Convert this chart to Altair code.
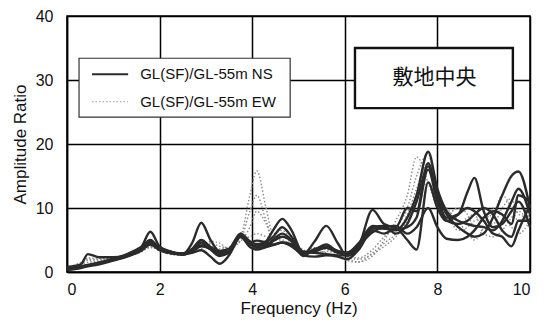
import altair as alt
import pandas as pd

freq = [0.0, 0.3, 0.45, 0.7, 1.0, 1.3, 1.6, 1.8, 2.0, 2.2, 2.5, 2.7, 2.9, 3.1, 3.3, 3.5,
        3.75, 3.95, 4.1, 4.3, 4.45, 4.65, 4.85, 5.1, 5.35, 5.6, 5.85, 6.05, 6.3, 6.6, 6.85,
        7.1, 7.35, 7.55, 7.8, 8.0, 8.2, 8.45, 8.65, 8.8, 9.0, 9.2, 9.4, 9.6, 9.75, 10.0]

ns1 = [0.5, 0.8, 1.0, 1.4, 2.0, 2.6, 3.6, 4.8, 3.8, 3.2, 2.9, 3.5, 4.2, 3.8, 3.3, 3.6,
       5.8, 4.4, 4.0, 4.6, 5.5, 7.0, 5.5, 3.0, 3.2, 3.8, 3.0, 2.8, 4.0, 6.8, 6.8,
       6.5, 8.5, 12.0, 18.8, 13.0, 9.5, 8.0, 7.5, 7.2, 7.0, 6.5, 8.0, 11.0, 13.0, 9.0]
ns2 = [0.4, 0.7, 1.0, 1.3, 1.9, 2.5, 3.8, 6.3, 4.0, 3.3, 2.8, 4.5, 7.7, 5.0, 3.2, 3.6,
       6.0, 4.8, 4.3, 4.8, 6.5, 8.3, 6.5, 3.0, 3.5, 4.3, 3.2, 3.0, 4.5, 7.2, 6.8,
       6.6, 7.0, 8.5, 16.0, 11.0, 8.5, 9.0, 12.5, 14.7, 9.5, 7.0, 7.5, 9.5, 11.0, 7.0]
ns3 = [0.5, 0.9, 1.1, 1.5, 2.1, 2.8, 3.9, 5.0, 3.6, 3.0, 2.8, 3.0, 3.4, 2.4, 1.3, 2.6,
       5.5, 3.9, 3.5, 3.9, 4.2, 4.6, 4.0, 2.8, 4.8, 7.2, 4.5, 2.5, 4.0, 9.7, 7.5,
       7.0, 10.0, 9.5, 17.0, 12.0, 9.0, 7.0, 6.0, 5.5, 6.0, 8.5, 12.0, 15.0, 15.7, 10.0]
ns4 = [0.8, 1.2, 2.8, 2.3, 2.3, 2.6, 3.3, 4.3, 3.4, 3.0, 2.9, 3.6, 5.0, 3.9, 3.0, 3.2,
       5.7, 4.6, 4.9, 4.6, 4.3, 4.6, 4.3, 2.6, 2.4, 2.6, 2.4, 2.0, 3.5, 6.5, 6.0,
       6.8, 5.0, 3.5, 14.0, 10.0, 8.0, 9.0, 10.0, 9.5, 8.0, 6.0, 5.5, 4.0, 6.5, 10.5]
ns5 = [0.3, 0.6, 0.9, 1.2, 1.8, 2.4, 3.4, 4.4, 3.7, 3.1, 2.7, 3.2, 4.0, 3.6, 2.8, 3.0,
       5.6, 4.2, 4.4, 4.2, 4.8, 5.5, 4.8, 2.5, 3.6, 3.9, 3.3, 3.0, 4.2, 6.2, 7.0,
       7.2, 6.0, 7.0, 10.0, 7.0, 5.2, 5.0, 5.5, 6.5, 8.5, 9.5, 9.0, 7.5, 12.0, 11.0]
ns6 = [0.6, 0.8, 1.0, 1.4, 2.0, 2.7, 3.7, 4.6, 3.5, 3.0, 2.8, 3.3, 4.6, 3.5, 2.5, 3.1,
       6.0, 4.5, 3.8, 4.0, 5.0, 6.0, 5.0, 3.2, 3.0, 2.8, 2.6, 2.6, 3.8, 7.0, 7.2,
       6.0, 7.5, 11.0, 16.5, 12.0, 8.0, 7.5, 8.0, 9.0, 10.0, 9.0, 6.5, 5.5, 8.0, 8.0]

ew1 = [0.6, 1.5, 2.0, 2.0, 2.1, 2.6, 3.4, 4.0, 3.4, 2.8, 2.6, 3.2, 4.0, 4.5, 4.0, 3.8,
       5.5, 12.0, 15.8, 10.0, 6.0, 6.5, 5.0, 3.5, 3.0, 2.8, 2.5, 2.0, 1.6, 2.5, 5.0,
       8.0, 12.0, 18.0, 14.0, 10.0, 9.0, 6.5, 7.0, 8.0, 8.5, 9.0, 12.0, 10.0, 8.0, 9.0]
ew2 = [0.5, 1.2, 1.8, 1.9, 2.0, 2.5, 3.2, 3.8, 3.5, 3.0, 2.6, 3.0, 3.6, 4.8, 4.5, 3.6,
       5.0, 9.5, 12.0, 8.0, 5.5, 5.5, 4.5, 3.0, 3.4, 3.0, 2.4, 1.8, 1.5, 3.0, 4.5,
       6.0, 9.0, 13.0, 17.0, 12.0, 10.0, 8.0, 6.0, 5.0, 7.0, 10.0, 9.0, 7.0, 6.0, 8.0]
ew3 = [0.4, 1.0, 1.5, 1.7, 1.9, 2.4, 3.1, 3.9, 3.3, 2.9, 2.7, 3.3, 4.4, 4.0, 3.6, 3.9,
       4.8, 7.0, 9.5, 7.5, 5.0, 5.0, 4.0, 2.8, 3.0, 3.2, 2.8, 2.2, 2.0, 2.8, 4.0,
       5.5, 8.0, 11.0, 14.0, 10.5, 8.5, 7.5, 8.5, 9.0, 6.0, 5.5, 6.5, 8.5, 9.5, 7.0]
ew4 = [0.7, 1.3, 2.2, 2.1, 2.2, 2.7, 3.5, 4.2, 3.6, 3.1, 2.8, 3.4, 4.8, 4.2, 3.3, 3.5,
       5.3, 5.5, 6.0, 5.5, 5.2, 6.0, 4.8, 3.2, 3.8, 3.5, 3.0, 2.5, 2.2, 3.5, 5.5,
       7.0, 10.0, 15.0, 18.5, 11.5, 9.0, 10.0, 9.0, 7.0, 8.0, 7.5, 10.0, 11.5, 9.0, 8.5]

x_ticks = [0, 2, 4, 6, 8, 10]
y_ticks = [0, 10, 20, 30, 40]
legend_labels = ["GL(SF)/GL-55m NS", "GL(SF)/GL-55m EW"]
site_label = "敷地中央"

FONT = "Liberation Sans"

def long(series_dict, kind):
    rows = []
    for name, vals in series_dict.items():
        for f, v in zip(freq, vals):
            rows.append({"freq": f, "amp": v, "series": name, "kind": kind})
    return rows

ns_df = pd.DataFrame(long({"ns1": ns1, "ns2": ns2, "ns3": ns3, "ns4": ns4, "ns5": ns5, "ns6": ns6}, "NS"))
ew_df = pd.DataFrame(long({"ew1": ew1, "ew2": ew2, "ew3": ew3, "ew4": ew4}, "EW"))

xs = alt.Scale(domain=[0, 10], nice=False)
ys = alt.Scale(domain=[0, 40], nice=False)

xax = alt.Axis(values=x_ticks, title="Frequency (Hz)", labelPadding=9, titlePadding=3)
yax = alt.Axis(values=y_ticks, title="Amplitude Ratio", labelPadding=14, titlePadding=6)

def X(field):
    return alt.X(field, scale=xs, axis=xax)

def Y(field):
    return alt.Y(field, scale=ys, axis=yax)

ew_layer = alt.Chart(ew_df).mark_line(
    color="#8c8c8c", strokeWidth=1.4, strokeDash=[1.5, 2], interpolate="monotone"
).encode(x=X("freq:Q"), y=Y("amp:Q"), detail="series:N")

ns_layer = alt.Chart(ns_df).mark_line(
    color="#2b2b2b", strokeWidth=2.4, interpolate="monotone"
).encode(x=X("freq:Q"), y=Y("amp:Q"), detail="series:N")

# legend box
leg_box = alt.Chart(pd.DataFrame([{"x": 0.26, "x2": 4.82, "y": 24.2, "y2": 33.4}])).mark_rect(
    fill="white", stroke="#333", strokeWidth=1.2).encode(x=X("x:Q"), x2="x2", y=Y("y:Q"), y2="y2")
leg_ns = alt.Chart(pd.DataFrame([{"x": 0.54, "x2": 1.32, "y": 30.9}])).mark_rule(
    color="#2b2b2b", strokeWidth=2).encode(x=X("x:Q"), x2="x2", y=Y("y:Q"))
leg_ew = alt.Chart(pd.DataFrame([{"x": 0.54, "x2": 1.32, "y": 26.6}])).mark_rule(
    color="#9a9a9a", strokeWidth=1.2, strokeDash=[1.5, 2]).encode(x=X("x:Q"), x2="x2", y=Y("y:Q"))
leg_text = alt.Chart(pd.DataFrame([
    {"x": 1.58, "y": 30.9, "t": legend_labels[0]},
    {"x": 1.58, "y": 26.6, "t": legend_labels[1]},
])).mark_text(align="left", baseline="middle", font=FONT, fontSize=15, color="#111").encode(
    x=X("x:Q"), y=Y("y:Q"), text="t:N")

# site label box
site_box = alt.Chart(pd.DataFrame([{"x": 6.22, "x2": 9.63, "y": 25.6, "y2": 35.0}])).mark_rect(
    fill="white", stroke="#111", strokeWidth=2.4).encode(x=X("x:Q"), x2="x2", y=Y("y:Q"), y2="y2")
site_text = alt.Chart(pd.DataFrame([{"x": 7.94, "y": 30.3, "t": site_label}])).mark_text(
    align="center", baseline="middle", font="Noto Sans CJK JP", fontSize=21, color="#111").encode(
    x=X("x:Q"), y=Y("y:Q"), text="t:N")

chart = alt.layer(
    ew_layer, ns_layer, leg_box, leg_ns, leg_ew, leg_text, site_box, site_text
).properties(
    width=463, height=256,
    autosize=alt.AutoSizeParams(type="none"),
    padding={"left": 59, "top": 8, "right": 10, "bottom": 50},
    background="white",
).configure_view(
    stroke="#000", strokeWidth=1.5
).configure_axis(
    grid=True, gridColor="#000", gridWidth=1.5, gridOpacity=1, ticks=False,
    domainColor="#000", domainWidth=1.5, labelFont=FONT, labelFontSize=16,
    labelColor="#111", titleFont=FONT, titleFontSize=17, titleFontWeight="normal",
    titleColor="#111",
)

chart.save("out.html", embed_options={"renderer": "svg", "actions": False})
